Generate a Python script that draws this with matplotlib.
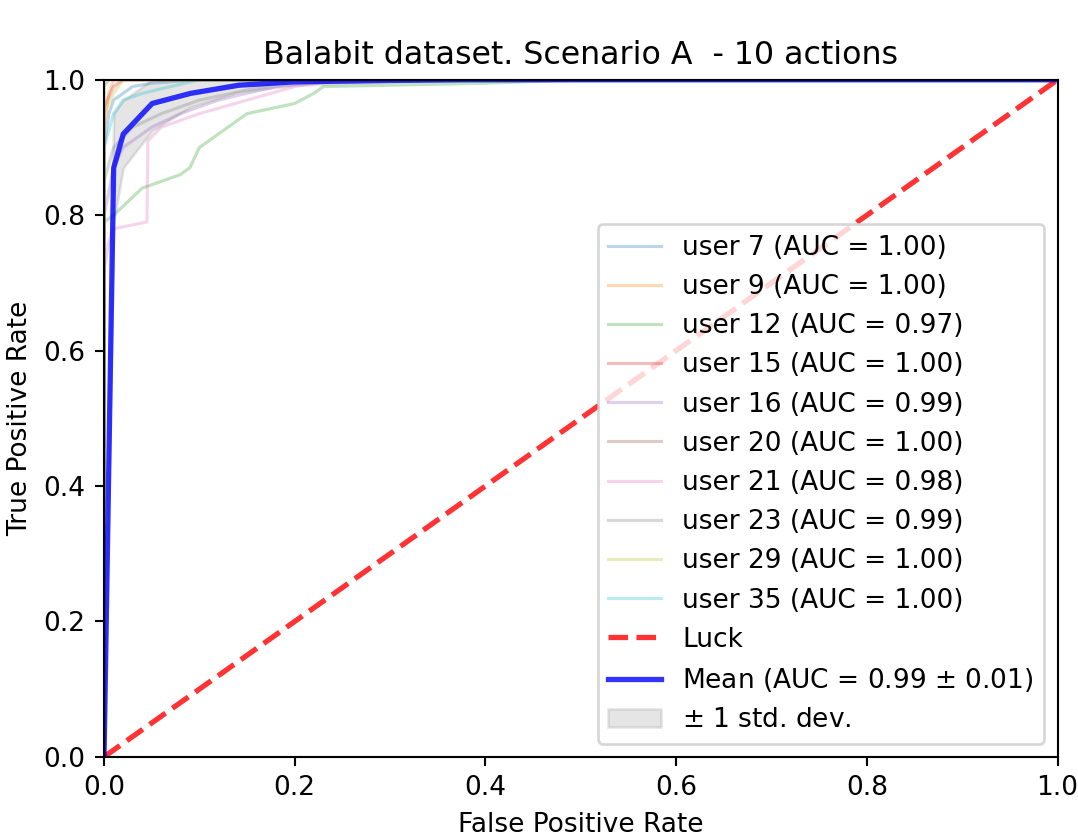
import matplotlib
matplotlib.use("Agg")
import matplotlib.pyplot as plt
import numpy as np

# per-user ROC points
users = [7, 9, 12, 15, 16, 20, 21, 23, 29, 35]
aucs = [1.00, 1.00, 0.97, 1.00, 0.99, 1.00, 0.98, 0.99, 1.00, 1.00]
fprs = [
    [0, 0, 0.005, 0.01, 0.02, 0.03, 0.05, 0.1, 1],
    [0, 0, 0.005, 0.01, 1],
    [0, 0, 0.01, 0.04, 0.08, 0.09, 0.1, 0.12, 0.15, 0.2, 0.22, 0.23, 0.4, 0.5, 1],
    [0, 0, 0.01, 0.02, 1],
    [0, 0, 0.01, 0.02, 0.05, 0.08, 0.12, 0.18, 0.25, 1],
    [0, 0, 0.005, 1],
    [0, 0, 0.005, 0.01, 0.045, 0.046, 0.06, 0.1, 0.15, 0.2, 0.25, 1],
    [0, 0, 0.01, 0.03, 0.06, 0.1, 0.15, 0.2, 1],
    [0, 0, 0.01, 0.02, 1],
    [0, 0, 0.01, 0.02, 0.04, 0.1, 1],
]
tprs = [
    [0, 0.9, 0.95, 0.97, 0.98, 0.99, 0.995, 1, 1],
    [0, 0.93, 0.98, 1, 1],
    [0, 0.79, 0.8, 0.84, 0.86, 0.87, 0.9, 0.92, 0.95, 0.965, 0.98, 0.99, 0.995, 1, 1],
    [0, 0.96, 0.99, 1, 1],
    [0, 0.8, 0.87, 0.9, 0.93, 0.95, 0.97, 0.99, 1, 1],
    [0, 0.99, 1, 1],
    [0, 0.72, 0.76, 0.78, 0.79, 0.91, 0.93, 0.95, 0.97, 0.99, 1, 1],
    [0, 0.85, 0.9, 0.93, 0.95, 0.97, 0.985, 1, 1],
    [0, 0.95, 0.98, 1, 1],
    [0, 0.9, 0.95, 0.97, 0.98, 1, 1],
]

mean_fpr = [0, 0.0101, 0.0202, 0.0505, 0.0909, 0.1414, 0.2, 0.3, 0.38, 1]
mean_tpr = [0, 0.87, 0.92, 0.965, 0.98, 0.992, 0.997, 0.999, 1, 1]
std_tpr = [0, 0.08, 0.05, 0.04, 0.02, 0.01, 0.005, 0.002, 0, 0]

fig, ax = plt.subplots(figsize=(1078/190, 840/190), dpi=190)
fig.subplots_adjust(left=0.0965, right=0.981, top=0.905, bottom=0.099)

for u, a, f, t in zip(users, aucs, fprs, tprs):
    ax.plot(f, t, lw=1.2, alpha=0.3, label='user %d (AUC = %0.2f)' % (u, a))

ax.plot([0, 1], [0, 1], linestyle='--', lw=2, color='r', label='Luck', alpha=.8)

ax.plot(mean_fpr, mean_tpr, color='b', lw=2, alpha=.8,
        label=r'Mean (AUC = %0.2f $\pm$ %0.2f)' % (0.99, 0.01))

upper = np.minimum(np.array(mean_tpr) + np.array(std_tpr), 1)
lower = np.maximum(np.array(mean_tpr) - np.array(std_tpr), 0)
ax.fill_between(mean_fpr, lower, upper, color='grey', alpha=.2, label=r'$\pm$ 1 std. dev.')

ax.set_xlim([-0.0, 1.0])
ax.set_ylim([-0.0, 1.0])
ax.set_xlabel('False Positive Rate')
ax.set_ylabel('True Positive Rate')
ax.set_title('Balabit dataset. Scenario A  - 10 actions')
ax.legend(loc="lower right")

fig.savefig('out.png', dpi=190)
